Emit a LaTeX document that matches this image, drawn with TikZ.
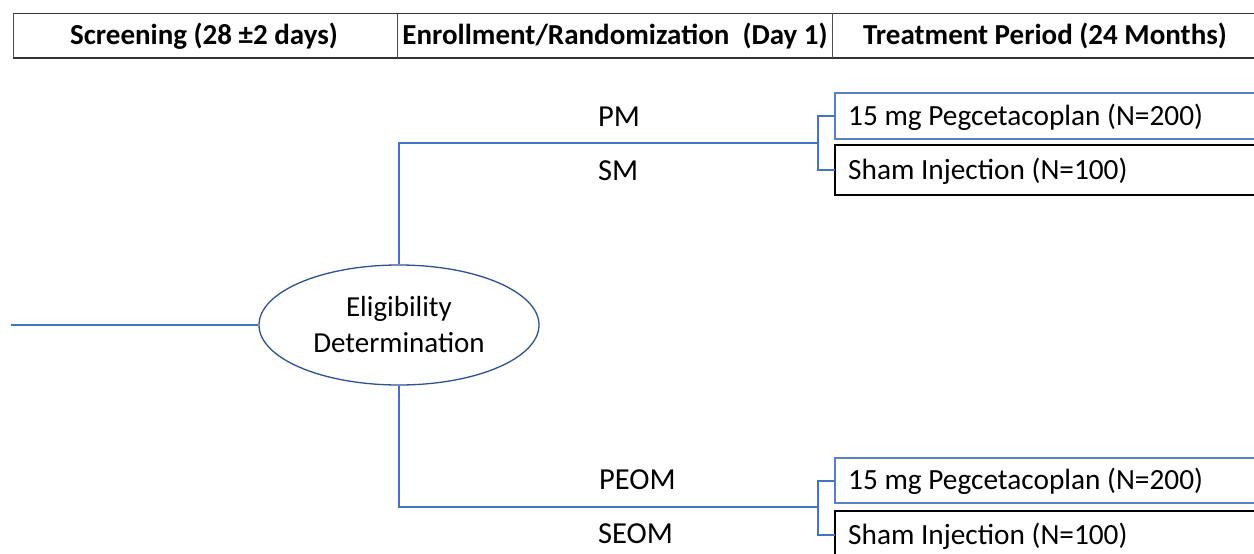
\documentclass[tikz,border=0pt]{standalone}
\usepackage{fontspec}
\setmainfont{Carlito}
\usetikzlibrary{shapes.geometric}
\definecolor{lnblue}{HTML}{4472C4}
\definecolor{elblue}{HTML}{2F528F}
\definecolor{bxblue}{HTML}{5A7FC4}
\tikzset{
  hdr/.style={font=\fontsize{29}{34}\selectfont\bfseries, anchor=center},
  lbl/.style={font=\fontsize{29.3}{34}\selectfont, anchor=west, inner sep=0pt},
  arm/.style={font=\fontsize{30.5}{34}\selectfont, anchor=west, inner sep=0pt},
  conn/.style={draw=lnblue, line width=1.3pt},
  armbox/.style={draw=bxblue, line width=1.5pt},
  shambox/.style={draw=black, line width=1.5pt},
}
\begin{document}
\begin{tikzpicture}[x=1pt,y=-1pt]
\useasboundingbox (0,0) rectangle (1254,554);
\clip (0,0) rectangle (1254,554);
% header table
\draw[black!80, line width=1pt] (13,13) -- (1260,13);
\draw[black!80, line width=2.2pt] (13,58) -- (1260,58);
\draw[black!70, line width=1pt] (13,13) -- (13,58);
\draw[black!70, line width=1pt] (397,13) -- (397,58);
\draw[black!70, line width=1pt] (832,13) -- (832,58);
\node[hdr] (h1) at (204,36) {Screening (28 ±2 days)};
\node[hdr] (h2) at (615,36) {Enrollment/Randomization\ \ (Day 1)};
\node[hdr] (h3) at (1045,36) {Treatment Period (24 Months)};
% ellipse
\node[ellipse, draw=elblue, line width=1.3pt, minimum width=280pt, minimum height=120pt, inner sep=0pt,
  align=center, font=\fontsize{29}{36}\selectfont] (el) at (399,325) {Eligibility\\Determination};
\coordinate (start) at (11,325);
\draw[conn] (start) -- (el.west);
% branch coordinates
\coordinate (tb) at (818,143);
\coordinate (bb) at (818,507);
\draw[conn] (el.north) |- (tb);
\draw[conn] (el.south) |- (bb);
% boxes
\draw[armbox] (835,93) rectangle (1262,139);
\node (b1) at (835,116) {};
\draw[shambox] (835,145) rectangle (1262,195);
\node (b2) at (835,170) {};
\draw[armbox] (835,458) rectangle (1262,503);
\node (b3) at (835,481) {};
\draw[shambox] (835,511) rectangle (1262,600);
\node (b4) at (835,535) {};
\draw[conn] (b1.center) -- ++(-17,0) |- (b2.center);
\draw[conn] (b3.center) -- ++(-17,0) |- (b4.center);
\node[lbl] (t1) at (848,117) {15 mg Pegcetacoplan (N=200)};
\node[lbl] (t2) at (848,171) {Sham Injection (N=100)};
\node[lbl] (t3) at (848,481) {15 mg Pegcetacoplan (N=200)};
\node[lbl] (t4) at (848,536) {Sham Injection (N=100)};
% arm labels
\node[arm] (pm) at (598,117) {PM};
\node[arm] (sm) at (598,171) {SM};
\node[arm] (peom) at (599,480) {PEOM};
\node[arm] (seom) at (598,534) {SEOM};
\end{tikzpicture}
\end{document}
